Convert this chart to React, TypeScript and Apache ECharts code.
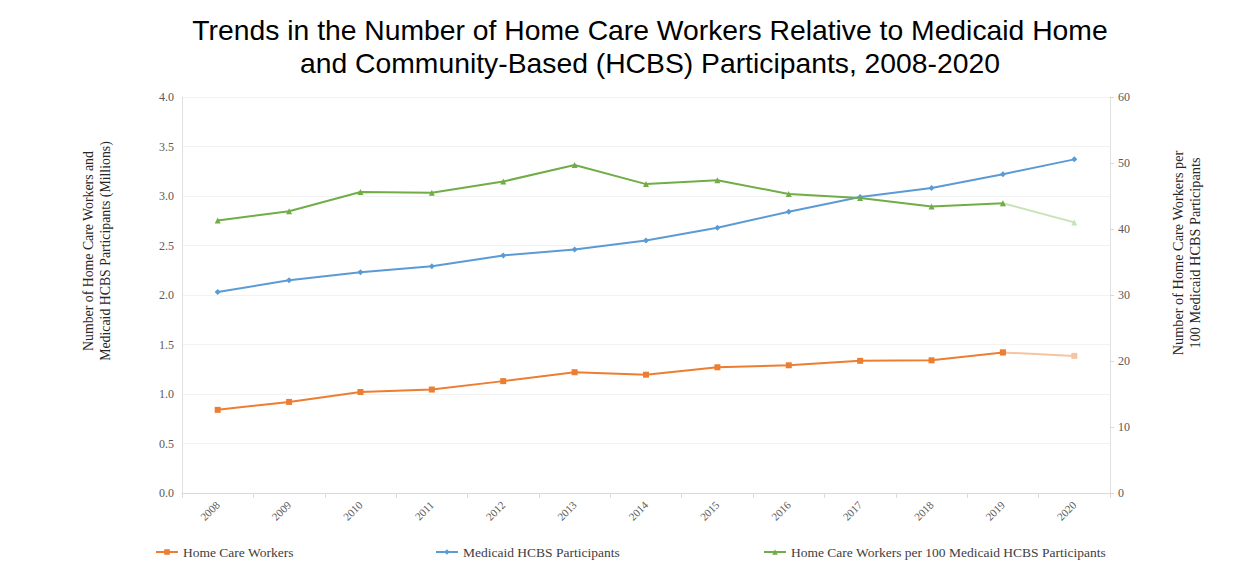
import React, { useEffect, useRef } from "react";
import * as echarts from "echarts";

const years = ["2008","2009","2010","2011","2012","2013","2014","2015","2016","2017","2018","2019","2020"];
const homeCareWorkers = [0.84, 0.92, 1.02, 1.045, 1.13, 1.22, 1.195, 1.27, 1.29, 1.335, 1.34, 1.42, 1.385];
const hcbsParticipants = [2.03, 2.15, 2.23, 2.29, 2.40, 2.46, 2.55, 2.68, 2.84, 2.99, 3.08, 3.22, 3.37];
const workersPer100 = [41.3, 42.7, 45.6, 45.5, 47.2, 49.7, 46.8, 47.4, 45.3, 44.7, 43.4, 43.9, 41.0];

const names = ["Home Care Workers", "Medicaid HCBS Participants", "Home Care Workers per 100 Medicaid HCBS Participants"];
const serif = "'Liberation Serif', 'DejaVu Serif', serif";

function mainPart(arr: number[]) {
  return arr.map((v, i) => (i < arr.length - 1 ? v : null));
}
function lastPart(arr: number[]) {
  return arr.map((v, i) => (i >= arr.length - 2 ? v : null));
}

export default function App() {
  const ref = useRef<HTMLDivElement>(null);
  useEffect(() => {
    document.body.style.margin = "0";
    const chart = echarts.init(ref.current!, null, { renderer: "svg" });
    const orange = "#ED7D31", orangeL = "#F7C4A0";
    const blue = "#5B9BD5";
    const green = "#70AD47", greenL = "#C9E3B8";
    const legendText = { fontFamily: serif, fontSize: 13.5, color: "#404040" };
    const legendCommon = { top: 545, itemWidth: 22, itemHeight: 7, itemGap: 2, padding: 0, textStyle: legendText };
    chart.setOption({
      animation: false,
      backgroundColor: "#fff",
      title: {
        text: "Trends in the Number of Home Care Workers Relative to Medicaid Home\nand Community-Based (HCBS) Participants, 2008-2020",
        left: 645, top: 8, textAlign: "center",
        textStyle: { fontFamily: "'Liberation Sans', Arial, sans-serif", fontSize: 28.3, fontWeight: "normal", color: "#000", lineHeight: 33 },
      },
      grid: { left: 182, right: 138, top: 97, bottom: 95 },
      legend: [
        { ...legendCommon, data: [names[0]], left: 155 },
        { ...legendCommon, data: [names[1]], left: 435 },
        { ...legendCommon, data: [names[2]], left: 763 },
      ],
      xAxis: {
        type: "category", data: years,
        axisLine: { lineStyle: { color: "#d9d9d9" } },
        axisTick: { show: true, lineStyle: { color: "#d9d9d9" } },
        axisLabel: { rotate: 45, fontFamily: serif, fontSize: 11, color: "#595959", margin: 10 },
      },
      yAxis: [
        {
          type: "value", min: 0, max: 4, interval: 0.5,
          axisLine: { show: true, lineStyle: { color: "#e0e0e0" } },
          axisTick: { show: false },
          splitLine: { lineStyle: { color: "#f2f2f2" } },
          axisLabel: { formatter: (v: number) => v.toFixed(1), fontFamily: serif, fontSize: 12, color: "#595959", margin: 8 },
        },
        {
          type: "value", min: 0, max: 60, interval: 10, position: "right",
          axisLine: { show: true, lineStyle: { color: "#e0e0e0" } },
          axisTick: { show: true, length: 4, lineStyle: { color: "#d9d9d9" } },
          splitLine: { show: false },
          axisLabel: { fontFamily: serif, fontSize: 12, color: "#595959", margin: 8 },
        },
      ],
      graphic: [
        { type: "text", x: 97, y: 251, rotation: Math.PI / 2,
          style: { text: "Number of Home Care Workers and\nMedicaid HCBS Participants (Millions)", fontFamily: serif, fontSize: 13.8, fill: "#262626", align: "center", verticalAlign: "middle", lineHeight: 17 } },
        { type: "text", x: 1186, y: 253, rotation: Math.PI / 2,
          style: { text: "Number of Home Care Workers per\n100 Medicaid HCBS Participants", fontFamily: serif, fontSize: 14.3, fill: "#262626", align: "center", verticalAlign: "middle", lineHeight: 17 } },
      ],
      series: [
        { name: names[0], type: "line", yAxisIndex: 0, data: mainPart(homeCareWorkers), symbol: "rect", symbolSize: 6,
          itemStyle: { color: orange }, lineStyle: { color: orange, width: 2 } },
        { name: "hcw2020", type: "line", yAxisIndex: 0, data: lastPart(homeCareWorkers), symbol: "rect", symbolSize: 6,
          itemStyle: { color: orangeL }, lineStyle: { color: orangeL, width: 2 }, z: 1 },
        { name: names[1], type: "line", yAxisIndex: 0, data: hcbsParticipants, symbol: "diamond", symbolSize: 6,
          itemStyle: { color: blue }, lineStyle: { color: blue, width: 2 } },
        { name: names[2], type: "line", yAxisIndex: 1, data: mainPart(workersPer100), symbol: "triangle", symbolSize: 6,
          itemStyle: { color: green }, lineStyle: { color: green, width: 2 } },
        { name: "ratio2020", type: "line", yAxisIndex: 1, data: lastPart(workersPer100), symbol: "triangle", symbolSize: 6,
          itemStyle: { color: greenL }, lineStyle: { color: greenL, width: 2 }, z: 1 },
      ],
    });
    return () => chart.dispose();
  }, []);
  return <div ref={ref} style={{ width: 1248, height: 588 }} />;
}
